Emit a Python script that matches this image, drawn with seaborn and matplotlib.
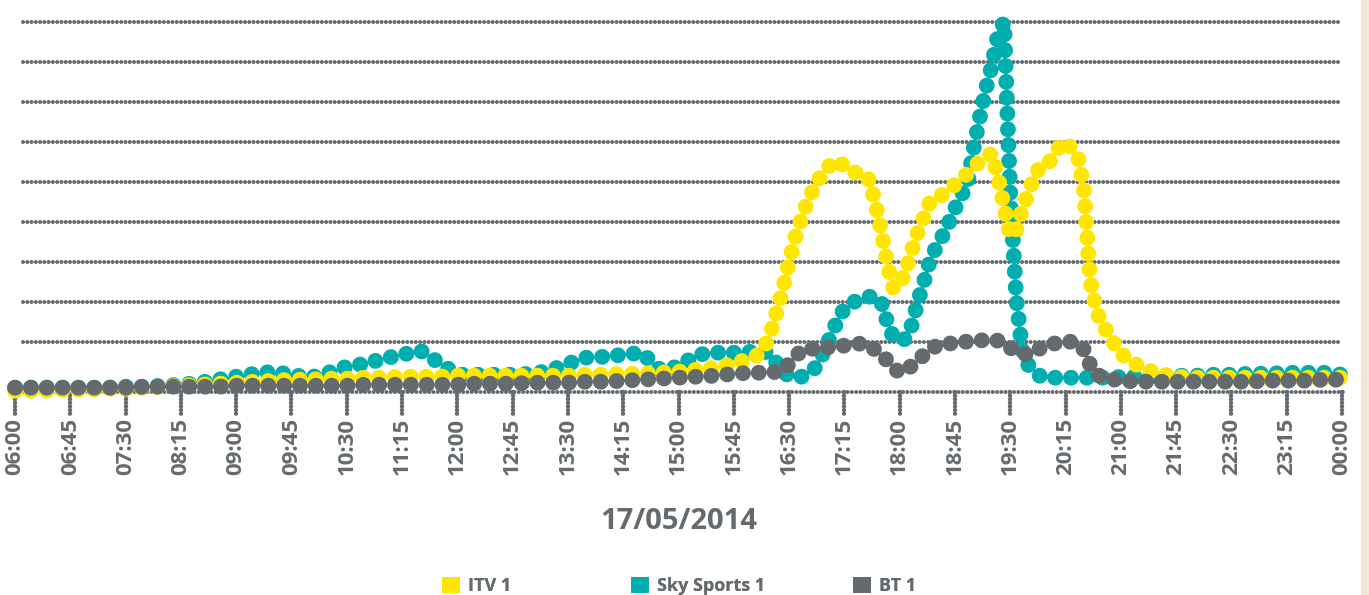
import matplotlib
matplotlib.use("Agg")
import matplotlib.pyplot as plt
from matplotlib.patches import Patch, Rectangle
import pandas as pd
import seaborn as sns

# sample times: 15 min steps, 5 min steps over the evening, 15 min again
times = (list(pd.date_range("2014-05-17 06:00", "2014-05-17 15:45", freq="15min"))
         + list(pd.date_range("2014-05-17 16:00", "2014-05-17 21:00", freq="5min"))
         + list(pd.date_range("2014-05-17 21:15", "2014-05-18 00:00", freq="15min")))

itv = [
    # 06:00 - 15:45
    0.1, 0.1, 0.1, 0.2, 0.2, 0.3, 0.3, 0.4, 0.5, 0.6, 0.7, 0.8, 0.9, 1.0, 1.1, 1.2,
    1.2, 1.3, 1.3, 1.4, 1.4, 1.5, 1.5, 1.5, 1.6, 1.6, 1.6, 1.6, 1.6, 1.6, 1.6, 1.7,
    1.7, 1.8, 1.8, 1.9, 2.0, 2.2, 2.4, 2.8,
    # 16:00 - 21:00
    3.4, 3.7, 4.4, 5.9, 8.0, 10.3, 13.0, 15.4, 17.3, 19.0, 20.3, 21.4,
    22.3, 22.8, 23.1, 22.5, 22.0, 21.9, 21.8, 21.2, 19.0, 16.1, 12.8, 10.3,
    10.8, 12.0, 14.2, 16.0, 17.5, 19.1, 19.4, 19.7, 20.2, 20.7, 21.2, 21.8,
    22.4, 23.0, 23.5, 23.8, 21.5, 18.5, 15.6, 16.2, 18.4, 19.9, 21.7, 22.6,
    22.7, 23.5, 24.5, 25.0, 24.3, 23.6, 20.2, 11.2, 8.2, 6.6, 5.9, 4.7,
    3.8,
    # 21:15 - 00:00
    2.5, 1.8, 1.5, 1.4, 1.4, 1.4, 1.4, 1.4, 1.4, 1.4, 1.4, 1.4,
]

sky = [
    0.4, 0.4, 0.4, 0.4, 0.4, 0.4, 0.5, 0.5, 0.6, 0.7, 0.9, 1.2, 1.5, 1.8, 2.0, 1.7,
    1.4, 1.9, 2.5, 2.8, 3.3, 3.7, 4.1, 2.9, 1.7, 1.7, 1.7, 1.7, 1.8, 2.1, 2.8, 3.4,
    3.5, 3.7, 3.9, 2.2, 2.5, 3.7, 3.9, 3.9,
    4.0, 4.0, 4.0, 3.8, 2.8, 2.1, 1.5, 1.5, 1.5, 1.8, 2.2, 3.1,
    4.5, 5.9, 7.3, 8.3, 8.8, 9.1, 9.3, 9.5, 9.5, 9.0, 6.9, 5.4,
    5.1, 5.3, 6.7, 9.1, 11.1, 13.3, 14.5, 15.6, 16.9, 18.3, 19.6, 20.6,
    24.2, 27.3, 30.2, 32.6, 35.7, 37.0, 19.7, 9.2, 3.9, 2.6, 2.0, 1.5,
    1.4, 1.4, 1.4, 1.4, 1.4, 1.4, 1.4, 1.4, 1.4, 1.4, 1.4, 1.4,
    1.5,
    1.5, 1.6, 1.6, 1.6, 1.7, 1.7, 1.8, 1.8, 1.9, 1.9, 1.9, 1.7,
]

bt = [
    0.4, 0.4, 0.4, 0.4, 0.4, 0.4, 0.4, 0.5, 0.5, 0.5, 0.5, 0.5, 0.6, 0.6, 0.6, 0.6,
    0.6, 0.6, 0.6, 0.7, 0.7, 0.7, 0.7, 0.7, 0.7, 0.8, 0.8, 0.8, 0.9, 0.9, 0.9, 1.0,
    1.0, 1.1, 1.2, 1.3, 1.4, 1.5, 1.6, 1.8,
    1.9, 1.9, 1.9, 1.9, 2.0, 2.1, 2.8, 3.4, 4.2, 4.3, 4.3, 4.4,
    4.4, 4.5, 4.6, 4.6, 4.7, 4.8, 4.8, 4.6, 4.2, 3.7, 3.1, 2.4,
    1.9, 2.2, 2.6, 3.2, 3.7, 4.2, 4.6, 4.7, 4.8, 4.9, 5.0, 5.0,
    5.1, 5.1, 5.2, 5.2, 5.1, 4.9, 4.4, 4.0, 3.8, 3.7, 4.0, 4.4,
    4.6, 4.8, 4.9, 5.0, 5.0, 4.8, 4.2, 2.7, 1.7, 1.5, 1.4, 1.2,
    1.1,
    1.0, 1.0, 1.0, 1.0, 1.0, 1.0, 1.0, 1.1, 1.1, 1.1, 1.2, 1.2,
]

channels = ["ITV 1", "Sky Sports 1", "BT 1"]
colors = ["#ffe600", "#00aeb0", "#646a6d"]
grid_levels = [5, 9, 13, 17, 21, 25, 29, 33, 37]
tick_labels = ["06:00", "06:45", "07:30", "08:15", "09:00", "09:45", "10:30", "11:15",
               "12:00", "12:45", "13:30", "14:15", "15:00", "15:45", "16:30", "17:15",
               "18:00", "18:45", "19:30", "20:15", "21:00", "21:45", "22:30", "23:15",
               "00:00"]
day_label = "17/05/2014"

df = pd.DataFrame({"time": times, "ITV 1": itv, "Sky Sports 1": sky, "BT 1": bt})

sns.set_style("white")
plt.rcParams["font.family"] = ["Open Sans", "DejaVu Sans"]
GRAY = "#646a6d"
dotted_big = (0, (0.01, 0.99))
dotted_small = (0, (0.01, 1.05))
dotted_tick = (0, (0.01, 0.8))

W, H = 1369, 595
fig = plt.figure(figsize=(W / 100, H / 100), dpi=100)
ax = fig.add_axes([15 / W, (H - 391.7) / H, 1327 / W, 391.7 / H])

start, end = times[0], times[-1]
ax.set_xlim(start, end)
ax.set_ylim(0, 39.17)

# dotted grid and axis line
for lev in grid_levels:
    ax.axhline(lev, xmin=0.0058, xmax=0.997, color=GRAY, lw=2.9, ls=dotted_small,
               dash_capstyle="round", zorder=1)
ax.axhline(0, xmin=0, xmax=1.002, color=GRAY, lw=2.9, ls=dotted_small,
           dash_capstyle="round", zorder=1, clip_on=False)

# draw order: sky under itv, bt on top
for name, z in [("Sky Sports 1", 3), ("ITV 1", 4), ("BT 1", 5)]:
    c = colors[channels.index(name)]
    sns.lineplot(data=df, x="time", y=name, ax=ax, color=c, lw=11.4, ls=dotted_big,
                 dash_capstyle="round", clip_on=False, zorder=z)

tick_pos = pd.date_range(start, end, freq="45min")
ax.vlines(tick_pos, 0, -0.057, transform=ax.get_xaxis_transform(), colors=GRAY,
          lw=3.2, linestyles=dotted_tick, capstyle="round", clip_on=False)
ax.set_xticks(tick_pos, labels=tick_labels, rotation=90, fontsize=16,
              fontweight="bold", color=GRAY)
ax.tick_params(axis="x", length=0, pad=19)
ax.set_yticks([])
ax.set_ylabel("")
for s in ax.spines.values():
    s.set_visible(False)

ax.set_xlabel(day_label, fontsize=21, fontweight="bold", color=GRAY)
ax.xaxis.set_label_coords(0.5, -0.3505)
ax.xaxis.label.set_va("baseline")

# one legend entry per channel, placed like the original
legend_left = [442, 631, 853]
for lab, c, x0 in zip(channels, colors, legend_left):
    leg = fig.legend(handles=[Patch(facecolor=c, edgecolor="none", label=lab)],
                     loc="upper left", bbox_to_anchor=(x0 / W, 1 - 577 / H),
                     frameon=False, borderpad=0, borderaxespad=0, handlelength=1.0,
                     handleheight=1.0, handletextpad=0.45,
                     prop={"size": 13, "weight": "bold"}, labelcolor=GRAY)
    fig.add_artist(leg)

# beige strip on the right edge
fig.add_artist(Rectangle((1360.7 / W, 0), 1 - 1360.7 / W, 1, transform=fig.transFigure,
                         facecolor="#eee8d5", edgecolor="none"))

fig.savefig("out.png", dpi=100)
